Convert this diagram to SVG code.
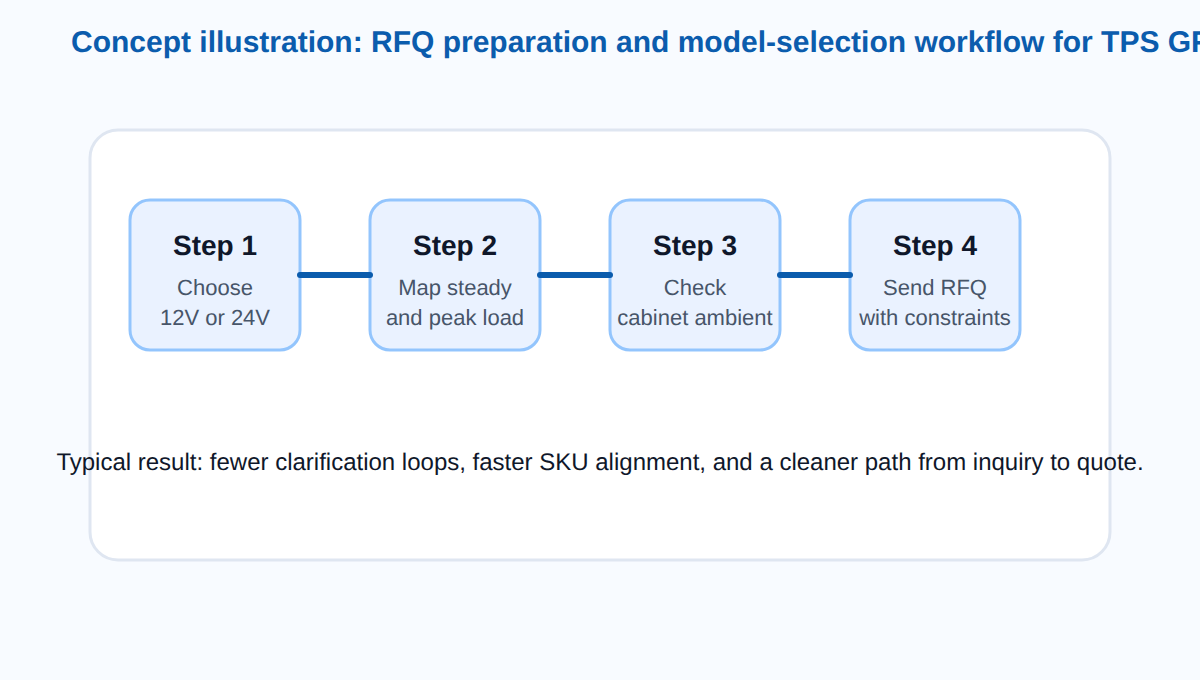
<svg xmlns="http://www.w3.org/2000/svg" width="1200" height="680" viewBox="0 0 1200 680">
<style>
text{font-family:"Liberation Sans",Arial,sans-serif;text-rendering:geometricPrecision}
.box{fill:#eaf2ff;stroke:#93c5fd;stroke-width:3}
.h{font-size:28px;font-weight:700;fill:#0f172a;text-anchor:middle}
.s{font-size:22px;fill:#475569;text-anchor:middle}
.c{stroke:#0b5cad;stroke-width:6;stroke-linecap:round;fill:none}
</style>
<rect width="1200" height="680" fill="#f8fbff"/>
<text x="71" y="52" font-size="30" font-weight="700" fill="#0b5cad">Concept illustration: RFQ preparation and model-selection workflow for TPS GF</text>
<rect x="90" y="130" width="1020" height="430" rx="28" fill="#fff" stroke="#dfe6f1" stroke-width="3"/>
<g id="step1"><rect class="box" x="130" y="200" width="170" height="150" rx="20"/><text class="h" x="215" y="255">Step 1</text><text class="s" x="215" y="295">Choose</text><text class="s" x="215" y="325">12V or 24V</text></g>
<g id="step2"><rect class="box" x="370" y="200" width="170" height="150" rx="20"/><text class="h" x="455" y="255">Step 2</text><text class="s" x="455" y="295">Map steady</text><text class="s" x="455" y="325">and peak load</text></g>
<g id="step3"><rect class="box" x="610" y="200" width="170" height="150" rx="20"/><text class="h" x="695" y="255">Step 3</text><text class="s" x="695" y="295">Check</text><text class="s" x="695" y="325">cabinet ambient</text></g>
<g id="step4"><rect class="box" x="850" y="200" width="170" height="150" rx="20"/><text class="h" x="935" y="255">Step 4</text><text class="s" x="935" y="295">Send RFQ</text><text class="s" x="935" y="325">with constraints</text></g>
<g id="connectors"><path class="c" d="M300 275H370"/><path class="c" d="M540 275H610"/><path class="c" d="M780 275H850"/></g>
<text x="600" y="470" font-size="24" fill="#0f172a" text-anchor="middle">Typical result: fewer clarification loops, faster SKU alignment, and a cleaner path from inquiry to quote.</text>
</svg>
